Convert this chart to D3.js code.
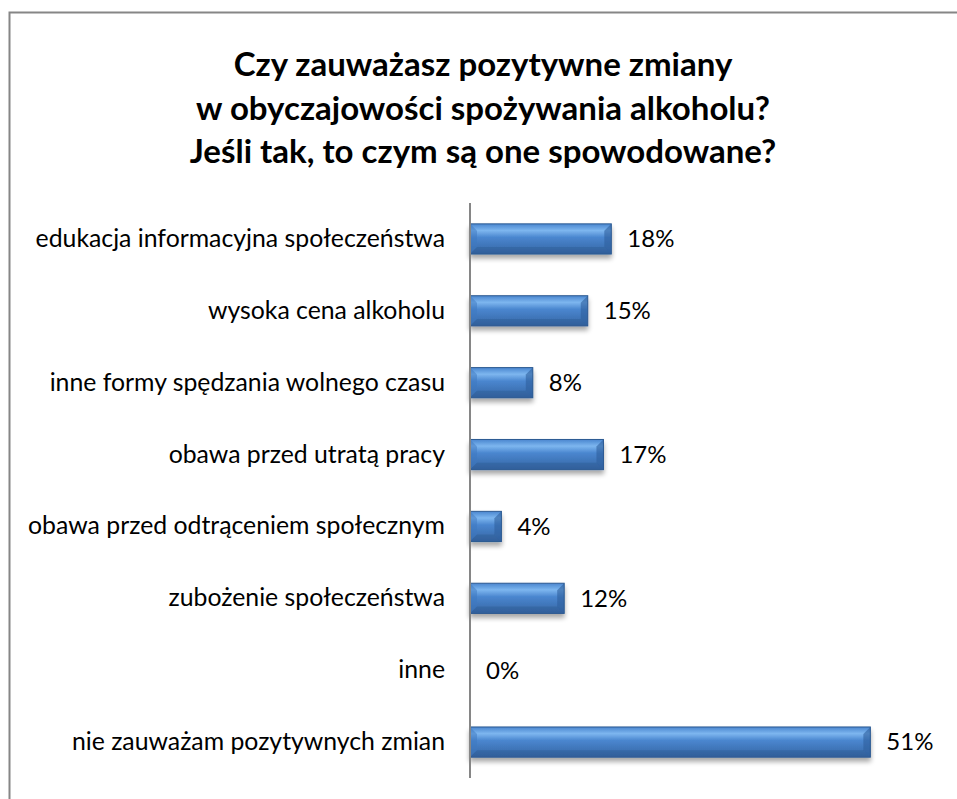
<!DOCTYPE html>
<html>
<head>
<meta charset="utf-8">
<script src="https://cdn.jsdelivr.net/npm/d3@7"></script>
<style>
  body { margin: 0; background: #fff; }
  svg text { font-family: Lato, "Open Sans", sans-serif; fill: #000; }
</style>
</head>
<body>
<div id="chart"></div>
<script>
// Chart data
var categories = [
    "edukacja informacyjna społeczeństwa",
    "wysoka cena alkoholu",
    "inne formy spędzania wolnego czasu",
    "obawa przed utratą pracy",
    "obawa przed odtrąceniem społecznym",
    "zubożenie społeczeństwa",
    "inne",
    "nie zauważam pozytywnych zmian"
];
var values = [0.18, 0.15, 0.08, 0.17, 0.04, 0.12, 0.00, 0.51];
var titleLines = [
    "Czy zauważasz pozytywne zmiany",
    "w obyczajowości spożywania alkoholu?",
    "Jeśli tak, to czym są one spowodowane?"
];

var width = 957, height = 799;
var plot = {left: 470, right: 941, top: 203, bottom: 778};

var svg = d3.select("#chart")
    .append("svg")
    .attr("width", width)
    .attr("height", height);

var defs = svg.append("defs");

// vertical gradient for the bar body
var grad = defs.append("linearGradient")
    .attr("id", "barGrad")
    .attr("x1", 0).attr("y1", 0).attr("x2", 0).attr("y2", 1);
grad.append("stop").attr("offset", "0%").attr("stop-color", "#4a86cf");
grad.append("stop").attr("offset", "22%").attr("stop-color", "#7db6ef");
grad.append("stop").attr("offset", "45%").attr("stop-color", "#4a86cf");
grad.append("stop").attr("offset", "100%").attr("stop-color", "#3565a3");

var shadow = defs.append("filter")
    .attr("id", "shadow")
    .attr("x", "-10%").attr("y", "-30%")
    .attr("width", "130%").attr("height", "180%");
shadow.append("feGaussianBlur").attr("in", "SourceAlpha").attr("stdDeviation", 2.5);
shadow.append("feOffset").attr("dx", 0).attr("dy", 4).attr("result", "off");
shadow.append("feComponentTransfer").append("feFuncA").attr("type", "linear").attr("slope", 0.35);
var merge = shadow.append("feMerge");
merge.append("feMergeNode");
merge.append("feMergeNode").attr("in", "SourceGraphic");

// chart area border (runs off the right/bottom of the picture)
svg.append("rect")
    .attr("x", 9.5).attr("y", 12.5)
    .attr("width", 980).attr("height", 820)
    .attr("fill", "none")
    .attr("stroke", "#868686")
    .attr("stroke-width", 2);

// title
svg.append("text")
    .attr("text-anchor", "middle")
    .attr("font-size", "33px")
    .attr("font-weight", "bold")
    .selectAll("tspan")
    .data(titleLines)
    .enter()
    .append("tspan")
    .attr("x", 483)
    .attr("y", function (d, i) { return 76 + i * 43.5; })
    .text(function (d) { return d; });

// scales
var x = d3.scaleLinear()
    .domain([0, 0.6])
    .range([plot.left, plot.right]);

var y = d3.scaleBand()
    .domain(categories)
    .range([plot.top, plot.bottom])
    .paddingInner(0.58)
    .paddingOuter(0.29);

// category axis
var yAxis = d3.axisLeft(y).tickSize(0).tickPadding(25);
svg.append("g")
    .attr("class", "y axis")
    .attr("transform", "translate(" + plot.left + ",0)")
    .call(yAxis)
    .call(function (g) {
        g.select(".domain").remove();
        g.selectAll("text")
            .attr("font-size", "24.8px")
            .attr("font-family", "Lato, 'Open Sans', sans-serif")
            .attr("fill", "#000");
    });

// bars
var barData = values.map(function (v, i) { return {cat: categories[i], value: v}; })
    .filter(function (d) { return d.value > 0; });

var bars = svg.append("g")
    .selectAll("g.bar")
    .data(barData)
    .enter()
    .append("g")
    .attr("class", "bar")
    .attr("filter", "url(#shadow)");

bars.each(function (d) {
    var g = d3.select(this);
    var x0 = x(0), x1 = x(d.value), y0 = y(d.cat), h = y.bandwidth();
    var b = Math.min(7, (x1 - x0) / 2);
    g.append("rect")
        .attr("x", x0).attr("y", y0)
        .attr("width", x1 - x0).attr("height", h)
        .attr("fill", "url(#barGrad)");
    // right bevel face darker
    g.append("path")
        .attr("d", "M" + x1 + "," + y0 + "L" + (x1 - b) + "," + (y0 + b) + "L" + (x1 - b) + "," + (y0 + h - b) + "L" + x1 + "," + (y0 + h) + "Z")
        .attr("fill", "#2f5f9c").attr("opacity", 0.6);
    // left bevel face
    g.append("path")
        .attr("d", "M" + x0 + "," + y0 + "L" + (x0 + b) + "," + (y0 + b) + "L" + (x0 + b) + "," + (y0 + h - b) + "L" + x0 + "," + (y0 + h) + "Z")
        .attr("fill", "#3d77bf").attr("opacity", 0.5);
    // bottom bevel darker
    g.append("path")
        .attr("d", "M" + x0 + "," + (y0 + h) + "L" + (x0 + b) + "," + (y0 + h - b) + "L" + (x1 - b) + "," + (y0 + h - b) + "L" + x1 + "," + (y0 + h) + "Z")
        .attr("fill", "#2a568c").attr("opacity", 0.35);
    g.append("rect")
        .attr("x", x0).attr("y", y0)
        .attr("width", x1 - x0).attr("height", h)
        .attr("fill", "none")
        .attr("stroke", "#2c5a92");
});

// value axis line
svg.append("line")
    .attr("x1", plot.left).attr("x2", plot.left)
    .attr("y1", plot.top).attr("y2", plot.bottom)
    .attr("stroke", "#868686")
    .attr("stroke-width", 2);

// value labels
svg.append("g")
    .selectAll("text")
    .data(values)
    .enter()
    .append("text")
    .attr("x", function (d) { return x(d) + 16; })
    .attr("y", function (d, i) { return y(categories[i]) + y.bandwidth() / 2; })
    .attr("dy", "0.35em")
    .attr("font-size", "24px")
    .text(function (d) { return Math.round(d * 100) + "%"; });
</script>
</body>
</html>
